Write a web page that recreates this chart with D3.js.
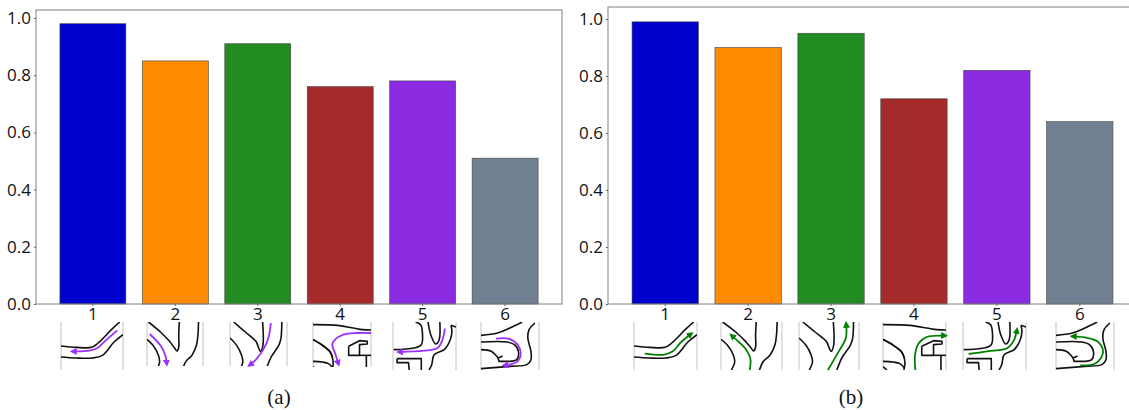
<!DOCTYPE html>
<html>
<head>
<meta charset="utf-8">
<script src="https://cdn.jsdelivr.net/npm/d3@7"></script>
<style>
body { margin: 0; background: #fff; overflow: hidden; }
svg { display: block; }
.tick text { font-family: "Open Sans", sans-serif; font-size: 17px; fill: #111; }
.caption { font-family: "Liberation Serif", serif; font-size: 21px; fill: #111; }
</style>
</head>
<body>
<div id="chart"></div>
<script>
// values
const categories = ["1", "2", "3", "4", "5", "6"];
const valuesA = [0.98, 0.85, 0.91, 0.76, 0.78, 0.51];
const valuesB = [0.99, 0.90, 0.95, 0.72, 0.82, 0.64];
const yTicks = [0, 0.2, 0.4, 0.6, 0.8, 1.0];
const barColors = ["#0000cd", "#ff8c00", "#228b22", "#a52a2a", "#8a2be2", "#708090"];

// little road sketches under the bars, in sketch units (187 x 144 per box)
const roads1 = [
	[[0,72],[47,76],[92,76],[112,63],[152,23],[177,0]],
	[[0,105],[45,108],[95,108],[125,100],[160,60],[187,38]]
];
const roads2 = [
	[[5,0],[45,30],[75,58],[92,78],[100,87],[106,75],[106,40],[108,0]],
	[[0,52],[20,70],[38,100],[42,120],[32,144]],
	[[172,0],[170,40],[165,70],[150,100],[130,118],[118,144]]
];
const roads3 = [
	[[12,0],[50,30],[85,58],[95,80],[100,88],[108,70],[107,0]],
	[[0,48],[22,70],[38,100],[42,120],[32,144]],
	[[170,0],[167,50],[160,70],[135,105],[118,144]]
];
const roads4 = [
	[[0,8],[80,10],[130,18],[160,23],[187,24]],
	[[0,53],[30,70],[55,90],[63,108],[65,125],[62,144]],
	[[0,52],[30,69],[55,89],[63,107]],
	[[0,118],[30,120],[50,125],[64,138]],
	[[0,134],[12,144]]
];
const roads5 = [
	[[2,83],[62,78],[84,68],[87,28],[82,8],[67,0]],
	[[104,0],[112,38],[127,66],[137,53],[139,0]],
	[[172,10],[175,28],[170,53],[152,83],[122,98],[115,128],[107,144]]
];
const roads6 = [
	[[0,40],[53,33],[93,18],[133,0]],
	[[0,60],[83,60],[108,68],[121,90],[115,113],[93,118]],
	[[55,108],[33,88],[0,83]],
	[[174,3],[155,23],[151,48],[161,88],[161,113],[148,128],[93,133],[0,140]]
];
const roadsAll = [roads1, roads2, roads3, roads4, roads5, roads6];

// the same sketches, parts with hard corners
const corners4 = [
	[[115,73],[150,56],[175,58],[175,66],[150,68],[150,100],[115,100],[115,73]],
	[[150,100],[187,100]],
	[[172,100],[172,144]]
];
const corners5 = [
	[[172,10],[187,15]],
	[[12,110],[84,110],[84,144]],
	[[12,110],[12,122],[46,122],[48,144]]
];
const corners6 = [
	[[93,118],[58,118],[55,108],[68,103],[55,108]]
];
const cornersAll = [[], [], [], corners4, corners5, corners6];

const routesA = [
	[[170,25],[135,55],[110,78],[85,86],[35,88]],
	[[9,36],[47,73],[62,103],[66,126]],
	[[134,3],[126,48],[109,83],[85,113],[64,130]],
	[[187,33],[141,33],[98,38],[71,53],[62,68],[71,93],[82,126]],
	[[154,20],[147,53],[132,78],[92,86],[17,90]],
	[[48,50],[88,50],[118,68],[128,93],[118,118],[75,130]]
];
const routesB = [
	[[32,95],[90,98],[115,88],[140,60],[170,35]],
	[[88,144],[90,110],[75,80],[55,60],[32,40]],
	[[90,144],[124,88],[146,48],[147,5]],
	[[96,144],[95,100],[105,65],[130,45],[185,41]],
	[[17,96],[72,88],[132,78],[152,53],[160,23]],
	[[78,130],[123,126],[148,103],[151,83],[133,58],[93,46],[53,43]]
];

const svg = d3.select("#chart").append("svg").attr("width", 1129).attr("height", 410);

const defs = svg.append("defs");
function arrowMarker(id, color) {
	defs.append("marker")
		.attr("id", id)
		.attr("viewBox", "0 0 10 10")
		.attr("refX", 6).attr("refY", 5)
		.attr("markerWidth", 7).attr("markerHeight", 7)
		.attr("markerUnits", "userSpaceOnUse")
		.attr("orient", "auto")
		.append("path")
		.attr("d", "M0,0L10,5L0,10Z")
		.attr("fill", color);
}
arrowMarker("headA", "#9b30ff");
arrowMarker("headB", "#008000");

let clipCount = 0;

function drawPanel(opts) {
	const x = d3.scaleBand().domain(categories)
		.range([opts.left, opts.right])
		.paddingInner(0.2).paddingOuter(0.29);
	const y = d3.scaleLinear().domain([0, 1]).range([304, opts.yOne]);

	const g = svg.append("g");

	// Bars
	g.selectAll("rect.bar")
		.data(opts.values)
		.join("rect")
		.attr("class", "bar")
		.attr("x", (d, i) => x(categories[i]))
		.attr("y", d => y(d))
		.attr("width", x.bandwidth())
		.attr("height", d => 304 - y(d))
		.attr("fill", (d, i) => barColors[i])
		.attr("stroke", "#444")
		.attr("stroke-width", 0.6);

	// Frame
	g.append("rect")
		.attr("x", opts.left).attr("y", opts.top)
		.attr("width", opts.right - opts.left).attr("height", 304 - opts.top)
		.attr("fill", "none").attr("stroke", "#808080").attr("stroke-width", 1);

	// Axes
	const yAxis = g.append("g")
		.attr("transform", `translate(${opts.left},0)`)
		.call(d3.axisLeft(y).tickValues(yTicks).tickFormat(d3.format(".1f")).tickSize(2).tickPadding(3));
	const xAxis = g.append("g")
		.attr("transform", "translate(0,304)")
		.call(d3.axisBottom(x).tickSize(2).tickPadding(2));
	yAxis.select(".domain").remove();
	xAxis.select(".domain").remove();
	g.selectAll(".tick line").attr("stroke", "#666");

	// Road thumbnails
	opts.boxes.forEach((box, i) => {
		const sx = d3.scaleLinear().domain([0, 187]).range([box[0], box[1]]);
		const sy = d3.scaleLinear().domain([0, 144]).range([322, 370]);
		const line = d3.line().x(d => sx(d[0])).y(d => sy(d[1])).curve(d3.curveCatmullRom.alpha(0.5));
		const straight = d3.line().x(d => sx(d[0])).y(d => sy(d[1]));

		const id = "clip" + (clipCount++);
		defs.append("clipPath").attr("id", id).append("rect")
			.attr("x", box[0]).attr("y", 322)
			.attr("width", box[1] - box[0]).attr("height", box[2]);

		const t = g.append("g");
		[box[0], box[1]].forEach(px => {
			t.append("line")
				.attr("x1", px).attr("x2", px).attr("y1", 322).attr("y2", 322 + box[2])
				.attr("stroke", "#c4c4c4").attr("stroke-width", 1);
		});
		const roads = t.append("g").attr("clip-path", `url(#${id})`)
			.attr("fill", "none")
			.attr("stroke", "#111")
			.attr("stroke-width", 1.6)
			.attr("stroke-linejoin", "round");
		roads.selectAll("path.road")
			.data(roadsAll[i])
			.join("path")
			.attr("class", "road")
			.attr("d", line);
		roads.selectAll("path.corner")
			.data(cornersAll[i])
			.join("path")
			.attr("class", "corner")
			.attr("d", straight);
		t.append("path")
			.attr("d", line(opts.routes[i]))
			.attr("fill", "none")
			.attr("stroke", opts.routeColor)
			.attr("stroke-width", 1.8)
			.attr("marker-end", `url(#${opts.head})`);
	});

	g.append("text")
		.attr("class", "caption")
		.attr("x", opts.captionX).attr("y", 404)
		.attr("text-anchor", "middle")
		.text(opts.caption);
}

drawPanel({
	left: 36, right: 562, top: 10, yOne: 18,
	values: valuesA, routes: routesA, routeColor: "#9b30ff", head: "headA",
	caption: "(a)", captionX: 279,
	boxes: [[61, 123, 48], [147, 203, 44], [230, 287, 44], [313, 371, 45], [393, 456, 48], [481, 539, 48]]
});
drawPanel({
	left: 608, right: 1137, top: 7, yOne: 19,
	values: valuesB, routes: routesB, routeColor: "#008000", head: "headB",
	caption: "(b)", captionX: 851,
	boxes: [[634, 697, 48], [721, 782, 48], [799, 859, 48], [883, 946, 48], [963, 1026, 48], [1056, 1114, 48]]
});
</script>
</body>
</html>
